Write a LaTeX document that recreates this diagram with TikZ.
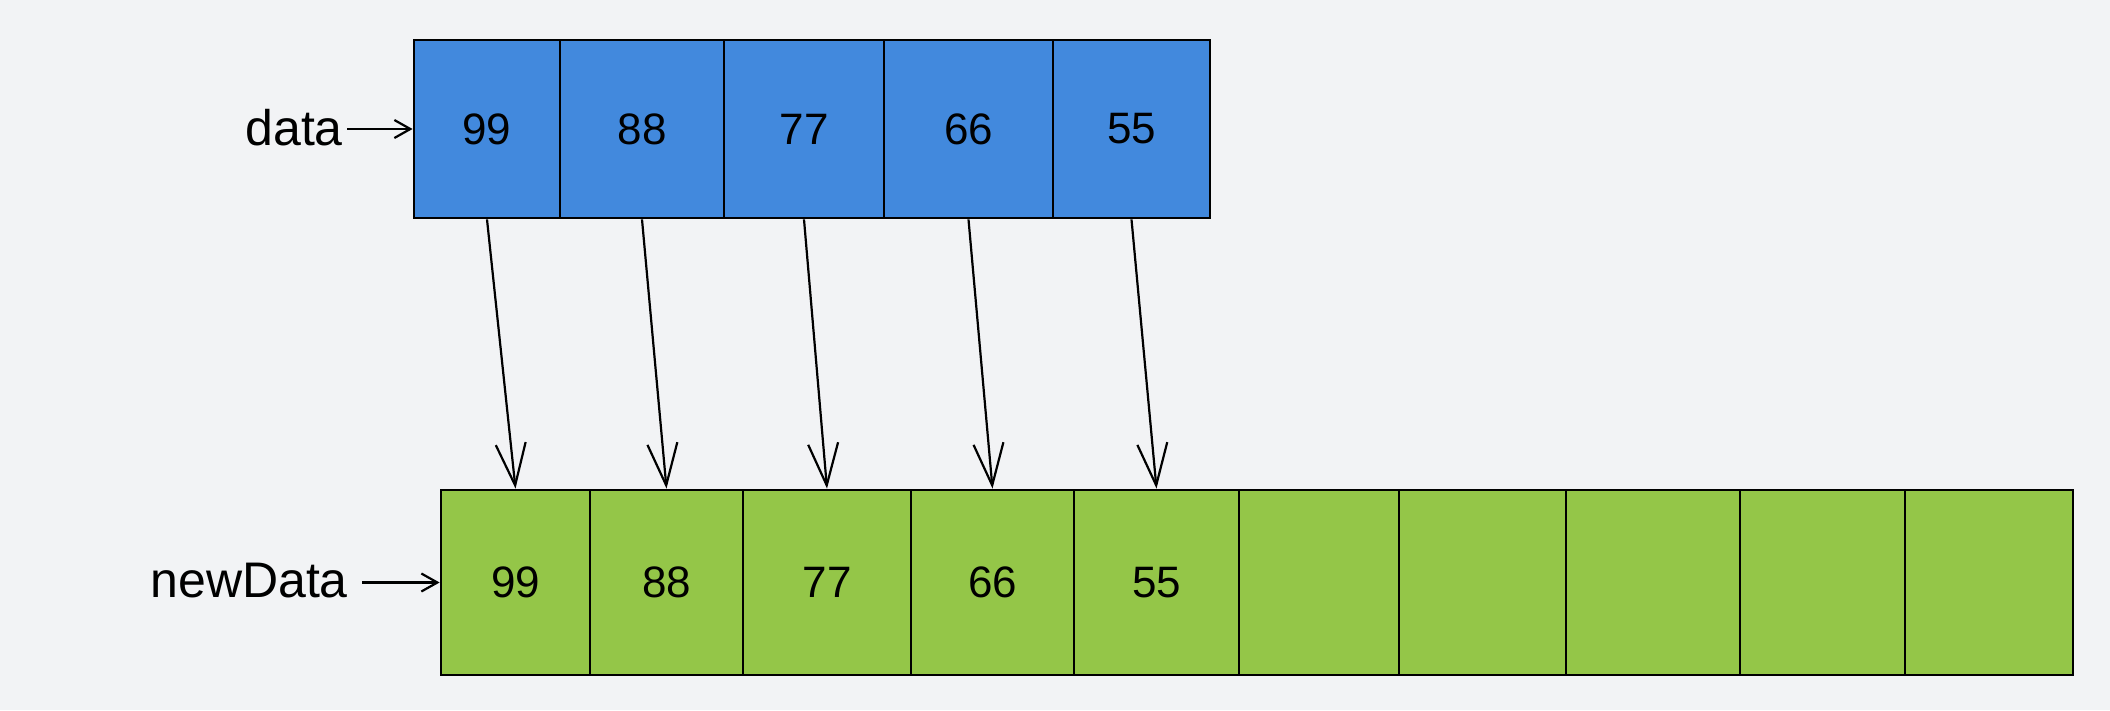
\documentclass[tikz,border=0pt]{standalone}
\usepackage{fontspec}
\setmainfont{Liberation Sans}
\usetikzlibrary{arrows.meta}
\definecolor{bg}{HTML}{F2F3F5}
\definecolor{cellblue}{HTML}{4289DD}
\definecolor{cellgreen}{HTML}{94C648}
\tikzset{
  topcell/.style={draw=black, line width=2.8pt, fill=cellblue, inner sep=0pt, minimum height=178pt, font=\fontsize{44}{44}\selectfont},
  botcell/.style={draw=black, line width=2.8pt, fill=cellgreen, inner sep=0pt, minimum height=185pt, font=\fontsize{44}{44}\selectfont},
  lbl/.style={inner sep=0pt, font=\fontsize{50}{50}\selectfont},
  copyarrow/.style={draw=black, line width=2.2pt, -{Straight Barb[length=42pt, width=30pt, line width=2.2pt]}},
  ptrarrow/.style={draw=black, line width=2.2pt, -{Straight Barb[length=16pt, width=18pt, line width=2.2pt]}}
}
\begin{document}
\begin{tikzpicture}[x=1pt,y=-1pt]
\fill[bg] (0,0) rectangle (2110,710);
\useasboundingbox (0,0) rectangle (2110,710);
% top array (data)
\node[topcell, minimum width=146pt] (t1) at (487,129) {99};
\node[topcell, minimum width=164pt] (t2) at (642,129) {88};
\node[topcell, minimum width=160pt] (t3) at (804,129) {77};
\node[topcell, minimum width=169pt] (t4) at (968.5,129) {66};
\node[topcell, minimum width=157pt] (t5) at (1131.5,129) {55};
% bottom array (newData)
\node[botcell, minimum width=149pt] (b1) at (515.5,582.5) {99};
\node[botcell, minimum width=153pt] (b2) at (666.5,582.5) {88};
\node[botcell, minimum width=168pt] (b3) at (827,582.5) {77};
\node[botcell, minimum width=163pt] (b4) at (992.5,582.5) {66};
\node[botcell, minimum width=165pt] (b5) at (1156.5,582.5) {55};
\node[botcell, minimum width=160pt] (b6) at (1319,582.5) {};
\node[botcell, minimum width=167pt] (b7) at (1482.5,582.5) {};
\node[botcell, minimum width=174pt] (b8) at (1653,582.5) {};
\node[botcell, minimum width=165pt] (b9) at (1822.5,582.5) {};
\node[botcell, minimum width=168pt] (b10) at (1989,582.5) {};
% labels
\node[lbl, anchor=east] (data) at (343,128) {data};
\node[lbl, anchor=east] (newdata) at (348,581) {newData};
\coordinate (ds) at (347,129);
\coordinate (ns) at (362,582.5);
\draw[ptrarrow] (ds) -- (t1.west);
\draw[ptrarrow] (ns) -- (b1.west);
% copy arrows
\foreach \i in {1,...,5} {
  \draw[copyarrow] (t\i.south) -- (b\i.north);
}
\end{tikzpicture}
\end{document}
